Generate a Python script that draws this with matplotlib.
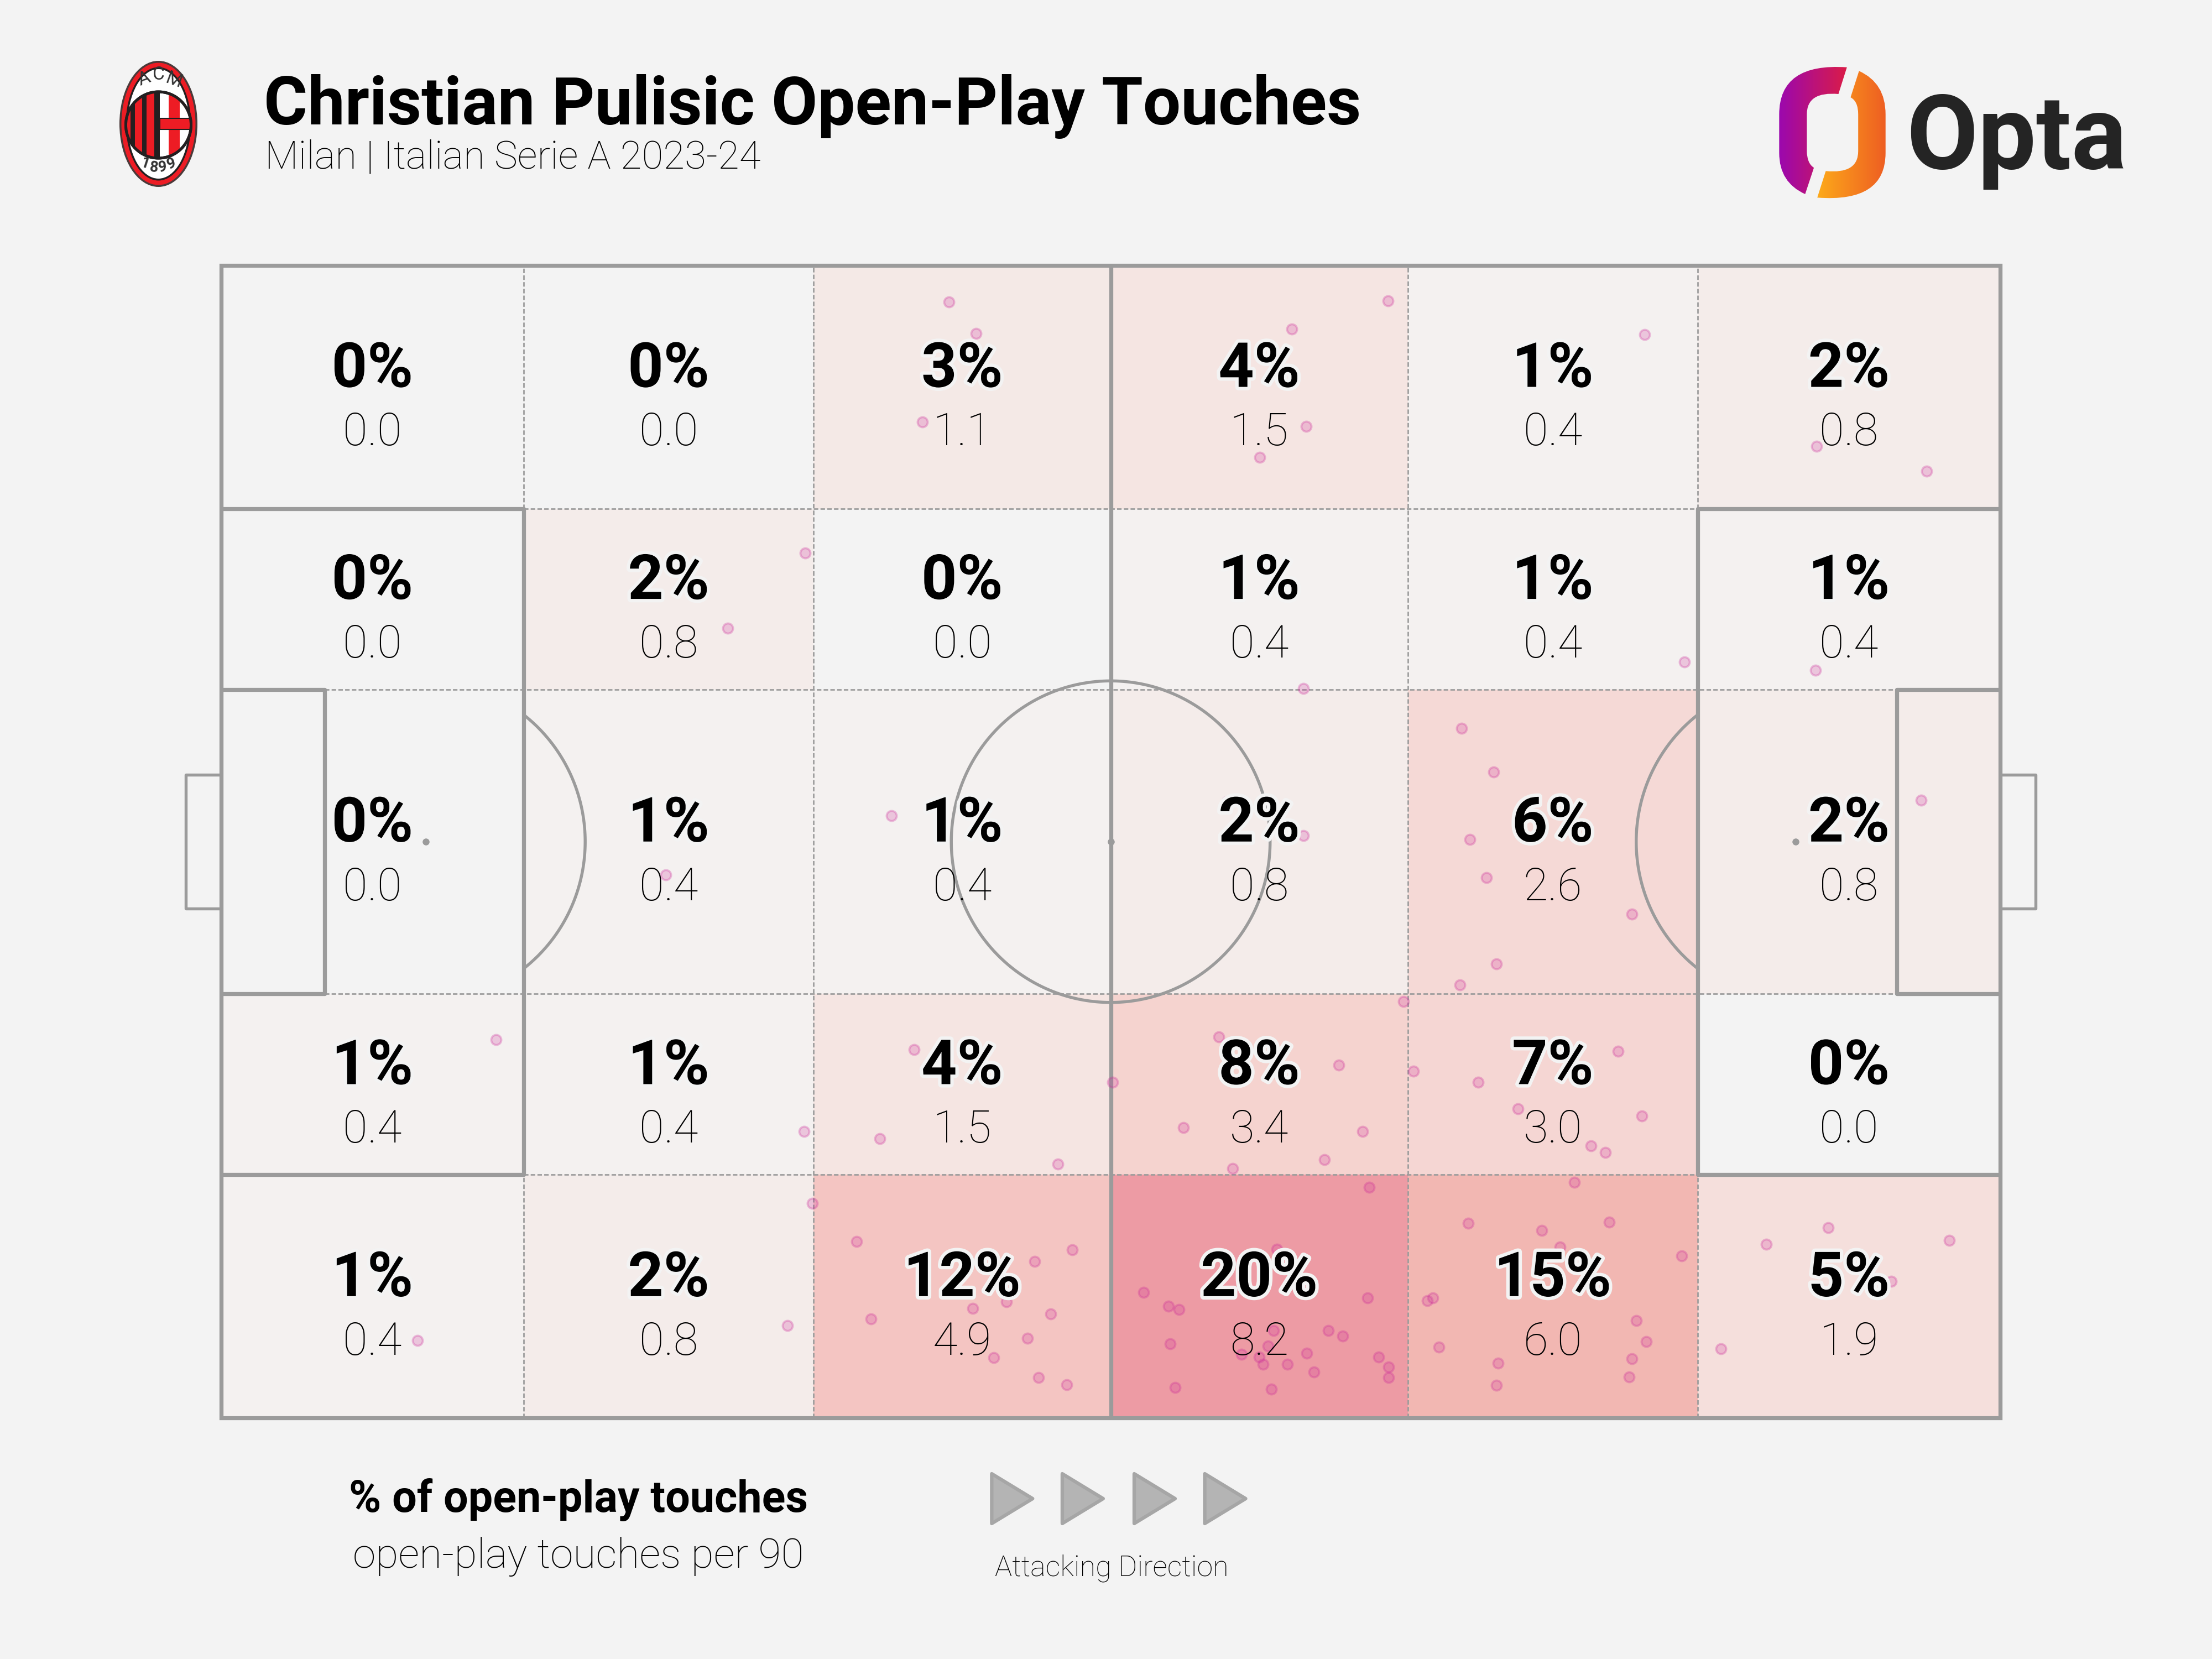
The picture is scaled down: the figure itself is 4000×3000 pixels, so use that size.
import numpy as np
import matplotlib
matplotlib.use('Agg')
import matplotlib.pyplot as plt
import matplotlib.patheffects as pe
from matplotlib.colors import LinearSegmentedColormap
from matplotlib.patches import Ellipse, Polygon, PathPatch, Rectangle
from matplotlib.path import Path

BG = '#F3F3F3'
LINE = '#9B9B9B'
BOLD = 'Roboto'

# zone edges on a 0-100 Opta pitch
x_edges = [0, 17, 33.3, 50, 66.7, 83, 100]
y_edges = [100, 78.9, 63.2, 36.8, 21.1, 0]

pct = [[0, 0, 3, 4, 1, 2],
       [0, 2, 0, 1, 1, 1],
       [0, 1, 1, 2, 6, 2],
       [1, 1, 4, 8, 7, 0],
       [1, 2, 12, 20, 15, 5]]
per90 = [[0.0, 0.0, 1.1, 1.5, 0.4, 0.8],
         [0.0, 0.8, 0.0, 0.4, 0.4, 0.4],
         [0.0, 0.4, 0.4, 0.8, 2.6, 0.8],
         [0.4, 0.4, 1.5, 3.4, 3.0, 0.0],
         [0.4, 0.8, 4.9, 8.2, 6.0, 1.9]]

touch_x = [40.92, 42.43, 39.41, 60.19, 65.58, 60.98, 58.37, 80.02, 89.69, 95.88,
           32.83, 28.47, 82.24, 89.61, 60.82,
           69.71, 71.53, 70.18, 71.13, 79.30, 71.69, 69.63, 95.56, 37.67, 56.54, 60.82, 24.98,
           66.45, 15.46, 38.94, 50.12, 32.75, 37.03, 47.03, 56.07, 62.81, 54.08, 64.16, 62.01, 56.86,
           67.01, 70.66, 78.51, 72.88, 79.86, 77.00, 77.79,
           33.23, 35.73, 47.85, 45.73, 44.14, 42.23, 46.63, 36.53, 31.84, 45.32, 43.44, 45.94, 47.54, 11.02,
           64.53, 59.34, 51.85, 53.24, 53.83, 64.45, 53.34, 62.23, 63.03, 59.16, 58.83, 57.34, 58.34, 58.55,
           59.94, 61.02, 61.43, 65.05, 65.63, 65.63, 53.62, 59.03,
           76.05, 70.10, 78.03, 74.23, 75.26, 82.08, 67.80, 68.12, 79.54, 80.10, 68.44, 71.77, 79.30, 79.14, 71.69,
           86.84, 90.33, 97.15, 93.89, 84.30]
touch_y = [96.82, 94.12, 86.41, 94.49, 96.94, 86.05, 83.35, 94.00, 84.33, 82.13,
           75.03, 68.54, 65.61, 64.87, 63.28,
           59.85, 56.06, 50.18, 46.88, 43.70, 39.41, 37.58, 53.61, 52.26, 53.49, 50.55, 47.12,
           36.11, 32.80, 31.95, 29.13, 24.85, 24.23, 22.03, 33.05, 30.60, 25.21, 24.85, 22.40, 21.66,
           30.11, 29.13, 31.82, 26.81, 26.19, 23.62, 23.01,
           18.60, 15.30, 14.60, 13.59, 10.07, 9.50, 9.00, 8.59, 8.00, 6.89, 5.21, 3.50, 2.89, 6.73,
           19.99, 14.64, 10.91, 9.71, 9.42, 10.40, 6.41, 7.60, 7.11, 7.59, 6.22, 5.51, 5.30, 4.65,
           4.65, 5.63, 4.00, 5.30, 4.41, 3.50, 2.62, 2.51,
           20.44, 16.89, 17.01, 16.28, 14.81, 14.08, 10.16, 10.40, 8.45, 6.61, 6.12, 4.77, 5.14, 3.55, 2.82,
           15.06, 16.52, 15.42, 11.87, 6.00]

cmap_stops = [(0, '#F3F3F3'), (1, '#F4F1F0'), (2, '#F4ECEA'), (4, '#F5E5E2'), (6, '#F5D9D6'),
              (8, '#F5D3CF'), (12, '#F4C5C2'), (15, '#F2B7B2'), (20, '#ED9BA4')]

arrow_x = [703, 753, 804, 854]


def line(ax, xs, ys, **kw):
    ax.plot(xs, ys, color=LINE, solid_capstyle='butt', clip_on=False, **kw)


def draw_pitch(ax):
    thick = dict(lw=1.75, zorder=3)
    thin = dict(lw=0.65, ls=(0, (3, 1.5)), zorder=2)
    # dashed zone lines first
    for xv in [33.3, 66.7]:
        line(ax, [xv, xv], [0, 100], **thin)
    for xv in [17, 83]:
        line(ax, [xv, xv], [0, 21.1], **thin)
        line(ax, [xv, xv], [78.9, 100], **thin)
    for yv in [21.1, 78.9]:
        line(ax, [17, 83], [yv, yv], **thin)
    for yv in [36.8, 63.2]:
        line(ax, [5.8, 94.2], [yv, yv], **thin)
    # solid markings
    ax.add_patch(Rectangle((0, 0), 100, 100, fc='none', ec=LINE, lw=1.75, zorder=3, clip_on=False))
    line(ax, [50, 50], [0, 100], **thick)
    for x0, x1, x2 in [(0, 17, 5.8), (100, 83, 94.2)]:
        line(ax, [x0, x1, x1, x0], [21.1, 21.1, 78.9, 78.9], **thick)
        line(ax, [x0, x2, x2, x0], [36.8, 36.8, 63.2, 63.2], **thick)
    line(ax, [0, -2, -2, 0], [44.2, 44.2, 55.8, 55.8], lw=1.3, zorder=3)
    line(ax, [100, 102, 102, 100], [44.2, 44.2, 55.8, 55.8], lw=1.3, zorder=3)
    # circle and the two D's
    rx, ry = 8.96, 13.95
    t = np.linspace(0, 2 * np.pi, 300)
    line(ax, 50 + rx * np.cos(t), 50 + ry * np.sin(t), lw=1.3, zorder=3)
    t = np.radians(np.linspace(-52.4, 52.4, 100))
    line(ax, 11.5 + rx * np.cos(t), 50 + ry * np.sin(t), lw=1.3, zorder=3)
    line(ax, 88.5 - rx * np.cos(t), 50 + ry * np.sin(t), lw=1.3, zorder=3)
    ax.scatter([11.5, 50, 88.5], [50, 50, 50], s=9, color=LINE, zorder=3, linewidths=0)


def draw_crest(ov):
    cx, cy = 286.5, 224
    for w, h, c in [(141, 228, '#4A3A3A'), (134, 221, '#ED1C24'), (118, 205, '#231F20'), (111, 198, 'white')]:
        ov.add_patch(Ellipse((cx, cy), w, h, fc=c, ec='none', zorder=5))
    shield = Ellipse((cx, cy + 2), 118, 120, fc='white', ec='#231F20', lw=1.2, zorder=6)
    ov.add_patch(shield)
    for x0, w, c in [(228, 58, '#ED1C24'), (236, 8, '#231F20'), (257, 8, '#231F20'), (279, 10, '#231F20'),
                     (305, 20, '#ED1C24'), (289, 57, 'none')]:
        if c == 'none':
            continue
        r = Rectangle((x0, 150), w, 150, fc=c, ec='none', zorder=6.2)
        ov.add_patch(r)
        r.set_clip_path(shield)
    r = Rectangle((289, 214), 57, 20, fc='#ED1C24', ec='#231F20', lw=0.5, zorder=6.2)
    ov.add_patch(r)
    r.set_clip_path(shield)
    e2 = Ellipse((cx, cy + 2), 118, 120, fc='none', ec='#231F20', lw=1.2, zorder=6.4)
    ov.add_patch(e2)
    for s, x, y, rot in [('A', 261, 143, 20), ('C', 287, 135, 0), ('M', 314, 146, -20)]:
        ov.text(x, y, s, fontsize=8, rotation=rot, ha='center', va='center', color='#333333', zorder=7, family=BOLD)
    for s, x, y, rot in [('1', 263, 296, -18), ('8', 278, 303, -6), ('9', 294, 303, 6), ('9', 310, 296, 18)]:
        ov.text(x, y, s, fontsize=6.5, rotation=rot, ha='center', va='center', color='#333333', zorder=7,
                family=BOLD, fontweight='bold')


def grad_piece(ov, pts, c0, c1):
    verts = [(3100 + x * 800 / 1568, 50 + y / 3) for x, y in pts]
    codes = [Path.MOVETO, Path.LINETO, Path.CURVE3, Path.CURVE3, Path.LINETO, Path.CURVE3, Path.CURVE3,
             Path.LINETO, Path.CURVE3, Path.CURVE3, Path.LINETO, Path.CURVE3, Path.CURVE3, Path.CLOSEPOLY]
    cm = LinearSegmentedColormap.from_list('g', [c0, c1])
    xs = [v[0] for v in verts]
    ys = [v[1] for v in verts]
    im = ov.imshow(np.linspace(0, 1, 256).reshape(1, -1), cmap=cm, aspect='auto', zorder=5,
                   extent=[min(xs), max(xs), max(ys), min(ys)])
    patch = PathPatch(Path(verts, codes), transform=ov.transData, fc='none', ec='none')
    ov.add_patch(patch)
    im.set_clip_path(patch)


def draw_opta(ov):
    left = [(470, 215), (440, 360), (328, 345), (328, 470), (328, 670), (328, 735), (353, 760), (322, 903),
            (230, 840), (230, 680), (230, 470), (230, 190), (470, 215), (470, 215)]
    right = [(513, 235), (483, 378), (510, 400), (510, 470), (510, 670), (510, 795), (395, 778), (365, 922),
             (607, 950), (607, 680), (607, 470), (607, 300), (513, 235), (513, 235)]
    grad_piece(ov, left, '#9B08AE', '#DA1C48')
    grad_piece(ov, right, '#FDAA1A', '#EE5E22')
    ov.text(3647, 305, 'Opta', fontsize=45, fontweight='bold', family=BOLD, color='#242424',
            ha='center', va='baseline', zorder=5)


fig = plt.figure(figsize=(4000 / 300, 3000 / 300), dpi=300, facecolor=BG)

# full figure overlay in pixels, for header, logos and legend
ov = fig.add_axes([0, 0, 1, 1], zorder=1)
ov.set_xlim(0, 4000)
ov.set_ylim(3000, 0)
ov.axis('off')

ax = fig.add_axes([400 / 4000, 1 - 2564 / 3000, 3217 / 4000, 2084 / 3000], zorder=2)
ax.set_xlim(0, 100)
ax.set_ylim(0, 100)
ax.axis('off')

stops = LinearSegmentedColormap.from_list('zones', [(v / 20, c) for v, c in cmap_stops])
ax.pcolormesh(x_edges, y_edges, np.array(pct), cmap=stops, vmin=0, vmax=20, zorder=1)
draw_pitch(ax)

ax.scatter(touch_x, touch_y, s=19, facecolor=(0.80, 0.16, 0.60, 0.22), edgecolor=(0.80, 0.16, 0.60, 0.28),
           linewidths=0.9, zorder=4, clip_on=False)

for r in range(5):
    for c in range(6):
        xm = (x_edges[c] + x_edges[c + 1]) / 2
        ym = (y_edges[r] + y_edges[r + 1]) / 2
        ax.text(xm, ym + 1.5, '{}%'.format(pct[r][c]), fontsize=27, fontweight='bold', family=BOLD,
                ha='center', va='center', zorder=6, color='black',
                path_effects=[pe.withStroke(linewidth=3, foreground=BG)])
        ax.text(xm, ym - 4.0, '{:.1f}'.format(per90[r][c]), fontsize=19.5, fontweight='light', family=BOLD,
                ha='center', va='center', zorder=6, color='black')

ov.text(477, 225, 'Christian Pulisic Open-Play Touches', fontsize=29, fontweight='bold', family=BOLD, va='baseline')
ov.text(479, 305, 'Milan | Italian Serie A 2023-24', fontsize=17, fontweight='light', family=BOLD, va='baseline')

ov.text(1046, 2712, '% of open-play touches', fontsize=19, fontweight='bold', family=BOLD, ha='center', va='center')
ov.text(1046, 2815, 'open-play touches per 90', fontsize=18, fontweight='light', family=BOLD, ha='center', va='center')
ov.text(2010, 2836, 'Attacking Direction', fontsize=12.5, fontweight='light', family=BOLD, ha='center', va='center')

for a in arrow_x:
    x0 = a * 4000 / 1568
    ov.add_patch(Polygon([(x0, 2665), (x0 + 74, 2710), (x0, 2755)], closed=True, fc='#B4B4B4', ec='#A6A6A6',
                         lw=1.5, joinstyle='round', zorder=3))

draw_crest(ov)
draw_opta(ov)
ov.set_xlim(0, 4000)
ov.set_ylim(3000, 0)

fig.savefig('out.png', dpi=300, facecolor=BG)
